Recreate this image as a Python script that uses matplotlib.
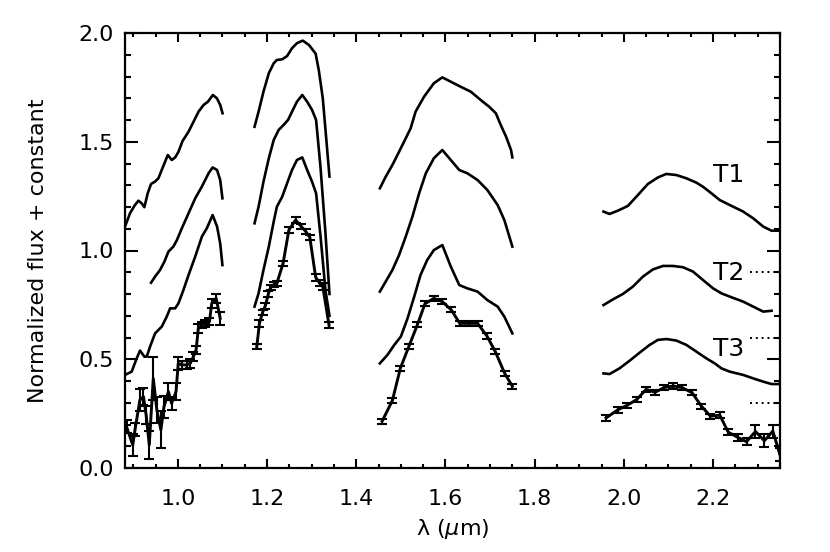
import numpy as np
import matplotlib
matplotlib.use("Agg")
import matplotlib.pyplot as plt
from matplotlib.ticker import MultipleLocator

nan = float("nan")

# ---------------- observed spectrum (with error bars), per band ----------------
obs1_wave = [0.885, 0.899, 0.904, 0.915, 0.923, 0.929, 0.936, 0.945, 0.953, 0.962, 0.969,
             0.979, 0.986, 0.996, 1.001, 1.009, 1.020, 1.028, 1.035, 1.041, 1.046, 1.054,
             1.061, 1.071, 1.076, 1.086, 1.095]
obs1_flux = [0.190, 0.106, 0.175, 0.313, 0.328, 0.244, 0.106, 0.412, 0.267, 0.175, 0.282,
             0.351, 0.297, 0.351, 0.481, 0.474, 0.474, 0.481, 0.512, 0.543, 0.642, 0.658,
             0.665, 0.673, 0.757, 0.780, 0.688]
obs1_err = [0.03, 0.05, 0.03, 0.05, 0.04, 0.04, 0.065, 0.10, 0.06, 0.085, 0.05,
            0.04, 0.03, 0.04, 0.03, 0.02, 0.02, 0.02, 0.02, 0.02, 0.02, 0.015,
            0.015, 0.015, 0.02, 0.02, 0.03]

obs2_wave = [1.177, 1.183, 1.190, 1.196, 1.203, 1.208, 1.215, 1.222, 1.236, 1.249, 1.264,
             1.277, 1.287, 1.296, 1.309, 1.318, 1.325, 1.339]
obs2_flux = [0.558, 0.665, 0.715, 0.745, 0.800, 0.831, 0.842, 0.849, 0.941, 1.094, 1.140,
             1.110, 1.087, 1.060, 0.877, 0.850, 0.834, 0.657]
obs2_err = [0.012, 0.015, 0.012, 0.012, 0.012, 0.012, 0.012, 0.012, 0.012, 0.012, 0.012,
            0.012, 0.012, 0.012, 0.015, 0.015, 0.015, 0.012]

obs3_wave = [1.458, 1.481, 1.499, 1.518, 1.537, 1.554, 1.574, 1.593, 1.613, 1.632, 1.652,
             1.672, 1.693, 1.712, 1.733, 1.750]
obs3_flux = [0.215, 0.310, 0.459, 0.559, 0.658, 0.755, 0.780, 0.765, 0.727, 0.665, 0.665,
             0.665, 0.607, 0.534, 0.434, 0.376]
obs3_err = [0.012] * 16

obs4_wave = [1.960, 1.986, 2.008, 2.029, 2.050, 2.070, 2.090, 2.111, 2.131, 2.153, 2.174,
             2.194, 2.215, 2.234, 2.255, 2.275, 2.295, 2.315, 2.334, 2.350]
obs4_flux = [0.230, 0.267, 0.289, 0.315, 0.362, 0.348, 0.370, 0.377, 0.369, 0.346, 0.284,
             0.238, 0.243, 0.165, 0.141, 0.121, 0.168, 0.125, 0.170, 0.060]
obs4_err = [0.012, 0.012, 0.012, 0.012, 0.012, 0.012, 0.012, 0.012, 0.012, 0.012, 0.012,
            0.012, 0.015, 0.015, 0.015, 0.015, 0.030, 0.030, 0.030, 0.030]

# ---------------- model spectra (offset), NaN separates the bands ----------------
t1_wave = [0.8816, 0.8928, 0.9026, 0.9116, 0.919, 0.925, 0.9325, 0.940, 0.949, 0.9565, 0.9655,
           0.9775, 0.9865, 0.994, 1.0015, 1.0105, 1.024, 1.0352, 1.0464, 1.0577, 1.0674,
           1.0786, 1.0876, 1.0951, 1.1003, nan,
           1.172, 1.181, 1.192, 1.204, 1.215, 1.222, 1.234, 1.245, 1.256, 1.267, 1.280,
           1.294, 1.309, 1.316, 1.325, 1.340, nan,
           1.453, 1.466, 1.481, 1.496, 1.511, 1.522, 1.533, 1.552, 1.574, 1.593, 1.612,
           1.634, 1.657, 1.679, 1.698, 1.713, 1.724, 1.736, 1.747, 1.750, nan,
           1.9543, 1.9678, 1.9865, 2.0090, 2.0314, 2.0539, 2.0764, 2.0951, 2.1176, 2.1400,
           2.1625, 2.1775, 2.1962, 2.2149, 2.2374, 2.2674, 2.2899, 2.3123, 2.3311, 2.3498]
t1_flux = [1.110, 1.171, 1.205, 1.229, 1.217, 1.199, 1.263, 1.306, 1.317, 1.332, 1.378,
           1.439, 1.416, 1.428, 1.454, 1.503, 1.546, 1.592, 1.638, 1.669, 1.684,
           1.715, 1.700, 1.669, 1.631, nan,
           1.569, 1.638, 1.730, 1.815, 1.861, 1.876, 1.879, 1.894, 1.930, 1.953, 1.965,
           1.945, 1.905, 1.830, 1.700, 1.340, nan,
           1.286, 1.339, 1.393, 1.454, 1.516, 1.562, 1.638, 1.707, 1.769, 1.796, 1.776,
           1.753, 1.730, 1.692, 1.661, 1.631, 1.577, 1.523, 1.462, 1.428, nan,
           1.179, 1.168, 1.183, 1.205, 1.255, 1.306, 1.336, 1.352, 1.347, 1.332,
           1.312, 1.293, 1.263, 1.232, 1.209, 1.179, 1.148, 1.110, 1.091, 1.091]

t2_wave = [0.940, 0.949, 0.960, 0.970, 0.979, 0.990, 0.998, 1.009, 1.024, 1.039, 1.054,
           1.069, 1.078, 1.088, 1.095, 1.100, nan,
           1.172, 1.181, 1.192, 1.204, 1.215, 1.226, 1.237, 1.247, 1.256, 1.267, 1.279,
           1.290, 1.301, 1.310, 1.320, 1.331, 1.340, nan,
           1.453, 1.466, 1.481, 1.496, 1.511, 1.526, 1.541, 1.556, 1.574, 1.593, 1.612,
           1.631, 1.649, 1.672, 1.694, 1.717, 1.732, 1.750, nan,
           1.9543, 1.9753, 1.9977, 2.0202, 2.0427, 2.0651, 2.0876, 2.1101, 2.1326, 2.1550,
           2.1775, 2.2000, 2.2187, 2.2412, 2.2674, 2.2899, 2.3123, 2.3311]
t2_flux = [0.852, 0.880, 0.910, 0.949, 0.995, 1.018, 1.048, 1.102, 1.171, 1.240, 1.294,
           1.355, 1.382, 1.370, 1.324, 1.240, nan,
           1.125, 1.201, 1.316, 1.424, 1.508, 1.554, 1.577, 1.600, 1.638, 1.684, 1.715,
           1.684, 1.646, 1.600, 1.380, 1.080, 0.800, nan,
           0.811, 0.857, 0.910, 0.979, 1.064, 1.156, 1.263, 1.355, 1.424, 1.462, 1.416,
           1.370, 1.355, 1.324, 1.278, 1.209, 1.140, 1.018, nan,
           0.749, 0.775, 0.800, 0.834, 0.880, 0.913, 0.929, 0.929, 0.923, 0.903,
           0.864, 0.826, 0.803, 0.785, 0.765, 0.742, 0.719, 0.723]

t3_wave = [0.8816, 0.8966, 0.9078, 0.9153, 0.925, 0.9303, 0.9378, 0.949, 0.964, 0.9752,
           0.9827, 0.994, 1.0014, 1.0127, 1.024, 1.039, 1.054, 1.065, 1.078, 1.088, 1.095,
           1.100, nan,
           1.172, 1.181, 1.192, 1.204, 1.215, 1.222, 1.234, 1.245, 1.256, 1.267, 1.279,
           1.290, 1.301, 1.310, 1.320, 1.331, 1.340, nan,
           1.453, 1.470, 1.485, 1.500, 1.515, 1.530, 1.544, 1.559, 1.574, 1.593, 1.612,
           1.631, 1.649, 1.672, 1.694, 1.717, 1.732, 1.750, nan,
           1.9543, 1.9678, 1.9902, 2.0127, 2.0352, 2.0577, 2.0764, 2.0951, 2.1176, 2.1400,
           2.1625, 2.1850, 2.2037, 2.2187, 2.2374, 2.2674, 2.2899, 2.3123, 2.3311, 2.3498]
t3_flux = [0.428, 0.443, 0.504, 0.540, 0.512, 0.512, 0.558, 0.619, 0.650, 0.696,
           0.734, 0.734, 0.757, 0.819, 0.887, 0.972, 1.064, 1.102, 1.163, 1.110, 1.033,
           0.933, nan,
           0.742, 0.803, 0.910, 1.018, 1.133, 1.201, 1.247, 1.309, 1.370, 1.416, 1.428,
           1.370, 1.316, 1.263, 1.064, 0.818, 0.700, nan,
           0.481, 0.520, 0.565, 0.604, 0.688, 0.788, 0.887, 0.956, 1.002, 1.025, 0.926,
           0.841, 0.826, 0.811, 0.772, 0.742, 0.696, 0.619, nan,
           0.435, 0.432, 0.458, 0.493, 0.530, 0.566, 0.589, 0.593, 0.586, 0.566,
           0.535, 0.504, 0.481, 0.458, 0.443, 0.428, 0.412, 0.397, 0.386, 0.386]

# labels and offset (zero-level) markers
model_names = ["T1", "T2", "T3"]
label_y = [1.345, 0.897, 0.547]
offset_levels = [0.9, 0.6, 0.3]

x_ticks = [1.0, 1.2, 1.4, 1.6, 1.8, 2.0, 2.2]
y_ticks = [0.0, 0.5, 1.0, 1.5, 2.0]

# ---------------- figure ----------------
plt.rcParams['font.family'] = ['DejaVu Sans']
fig = plt.figure(figsize=(8.3, 5.52), dpi=100)
ax = fig.add_axes([125 / 830, 1 - 468 / 552, 655 / 830, 435 / 552])

for wv, fl in [(t1_wave, t1_flux), (t2_wave, t2_flux), (t3_wave, t3_flux)]:
    ax.plot(wv, fl, color='black', lw=1.9, solid_joinstyle='round')

for wv, fl, er in [(obs1_wave, obs1_flux, obs1_err), (obs2_wave, obs2_flux, obs2_err),
                   (obs3_wave, obs3_flux, obs3_err), (obs4_wave, obs4_flux, obs4_err)]:
    ax.errorbar(wv, fl, yerr=er, color='black', lw=2.1, elinewidth=1.5,
                capsize=3.5, capthick=1.5)

for name, ly in zip(model_names, label_y):
    ax.text(2.2, ly, name, fontsize=18, ha='left', va='center')

for lev in offset_levels:
    ax.plot([2.283, 2.35], [lev, lev], color='black', lw=1.4, ls=(0, (1, 2)))

ax.set_xlim(0.8816, 2.35)
ax.set_ylim(0.0, 2.0)
ax.set_xticks(x_ticks)
ax.set_xticklabels([f"{v:.1f}" for v in x_ticks])
ax.set_yticks(y_ticks)
ax.set_yticklabels([f"{v:.1f}" for v in y_ticks])
ax.xaxis.set_minor_locator(MultipleLocator(0.05))
ax.yaxis.set_minor_locator(MultipleLocator(0.1))

for sp in ax.spines.values():
    sp.set_linewidth(1.6)
ax.tick_params(axis='both', which='both', direction='in', top=True, right=True,
               width=1.5, labelsize=16)
ax.tick_params(axis='x', which='major', length=6.5, pad=15)
ax.tick_params(axis='x', which='minor', length=3.2)
ax.tick_params(axis='y', which='major', length=9.4, pad=8)
ax.tick_params(axis='y', which='minor', length=4.3)

ax.set_xlabel(r"λ ($\mu$m)", fontsize=16)
ax.set_ylabel("Normalized flux + constant", fontsize=16)
ax.xaxis.set_label_coords(0.5, -0.112)
ax.yaxis.set_label_coords(-0.118, 0.5)

fig.savefig("out.png", dpi=100)
